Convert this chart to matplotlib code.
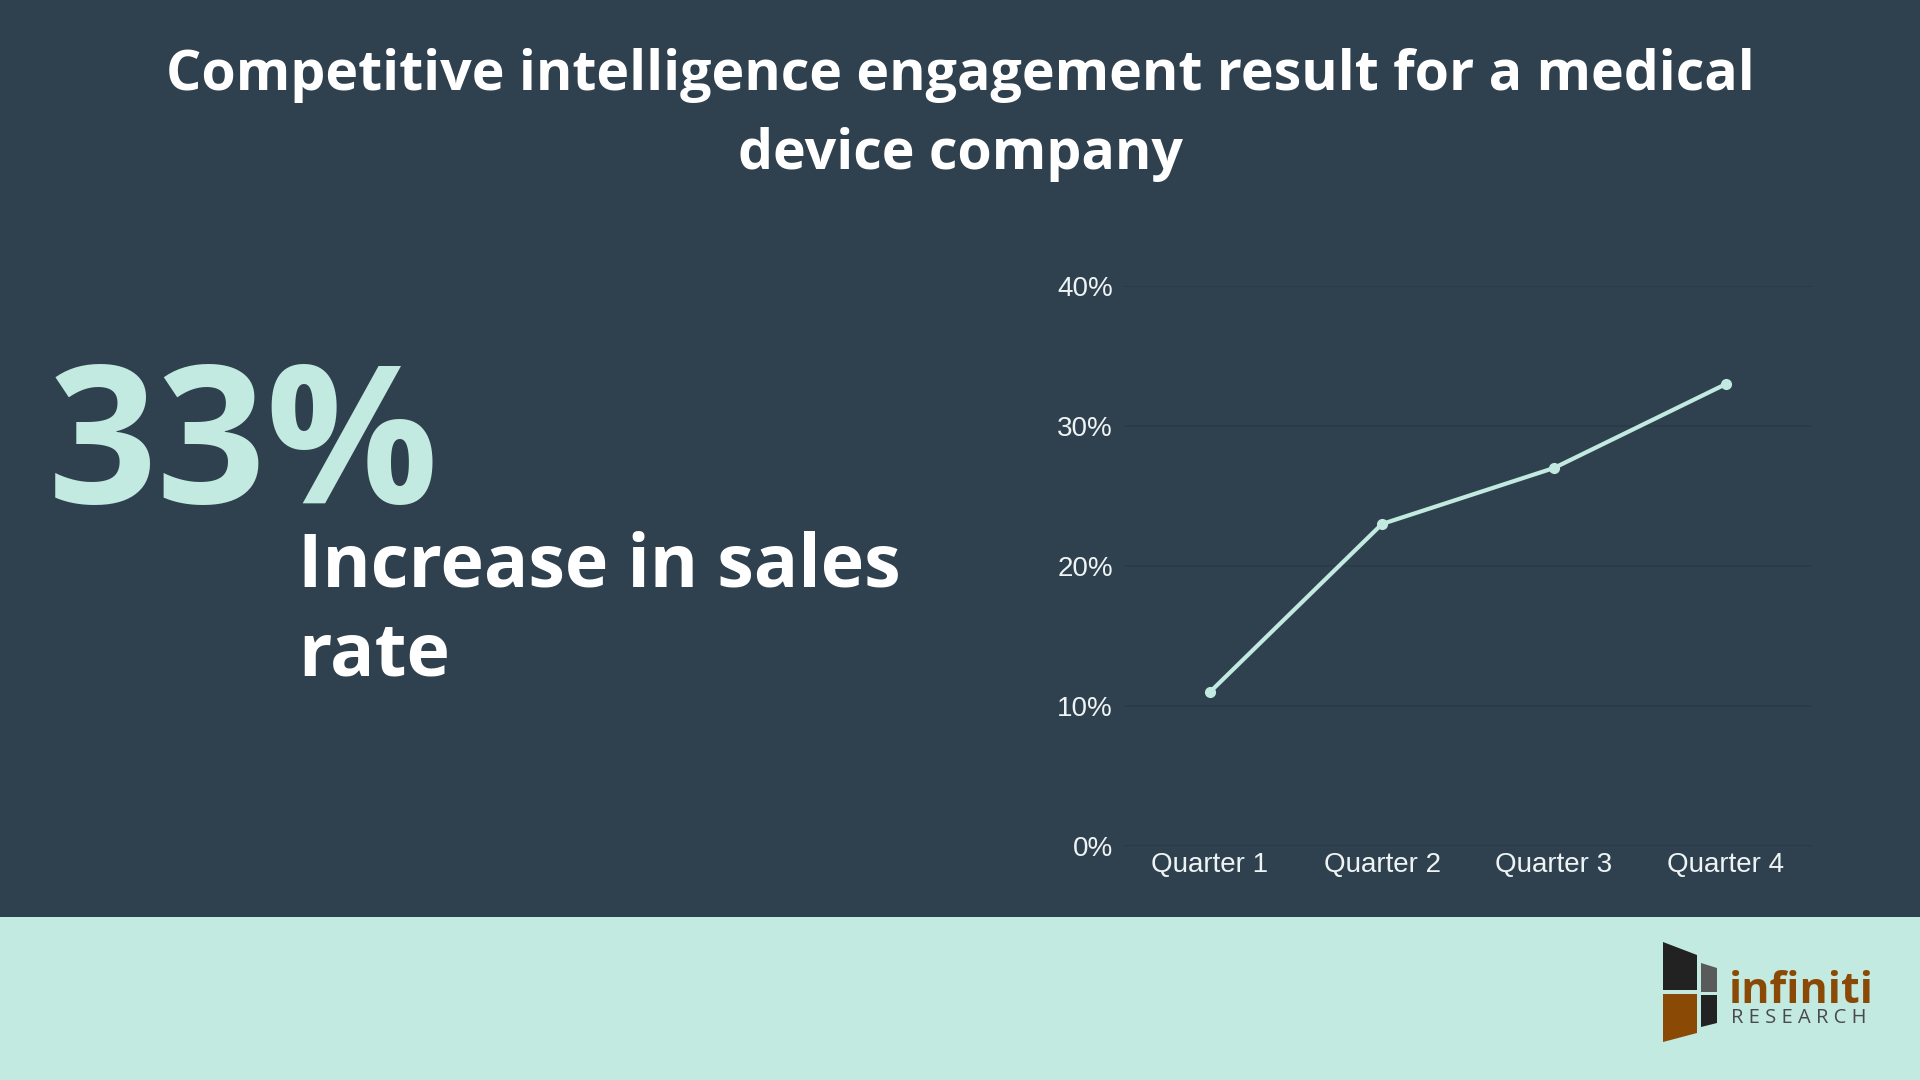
import matplotlib
matplotlib.use("Agg")
import matplotlib.pyplot as plt
from matplotlib.patches import Rectangle, Polygon
from matplotlib.ticker import PercentFormatter

# данные
quarters = ["Quarter 1", "Quarter 2", "Quarter 3", "Quarter 4"]
sales_increase = [11, 23, 27, 33]
y_ticks = [0, 10, 20, 30, 40]

title = "Competitive intelligence engagement result for a medical\ndevice company"
big_number = "33%"
big_caption = "Increase in sales\nrate"

bg = "#2f414e"
mint = "#c2eae1"
grid_col = "#293945"
tick_col = "#eef3f4"

fig = plt.figure(figsize=(19.2, 10.8), dpi=100, facecolor=bg)

# нижняя светлая полоса
fig.patches.append(Rectangle((0, 0), 1, 163 / 1080, transform=fig.transFigure,
                             facecolor=mint, edgecolor="none", zorder=0))

fig.text(0.5, 1 - 115 / 1080, title, ha="center", va="center", color="white",
         fontsize=40, fontweight="bold", family="Open Sans", linespacing=1.58)

fig.text(48 / 1920, 1 - 503 / 1080, big_number, ha="left", va="baseline", color=mint,
         fontsize=138, fontweight="bold", family="Open Sans")
fig.text(298 / 1920, 1 - 676 / 1080, big_caption, ha="left", va="baseline", color="white",
         fontsize=53, fontweight="bold", family="Open Sans", linespacing=1.27)

# график
ax = fig.add_axes([1124 / 1920, 1 - 846 / 1080, 688 / 1920, 560 / 1080])
ax.set_facecolor("none")
x = list(range(len(quarters)))
ax.plot(x, sales_increase, color=mint, lw=3, marker="o", ms=7, zorder=3)
ax.set_xlim(-0.5, len(quarters) - 0.5)
ax.set_ylim(0, 40)
ax.set_yticks(y_ticks)
ax.yaxis.set_major_formatter(PercentFormatter(decimals=0))
ax.set_xticks(x)
ax.set_xticklabels(quarters)
ax.grid(axis="y", color=grid_col, lw=1.2)
ax.set_axisbelow(True)
for s in ax.spines.values():
    s.set_visible(False)
ax.tick_params(length=0, colors=tick_col, labelsize=20, pad=8)
ax.tick_params(axis="x", pad=4)
for lab in ax.get_xticklabels() + ax.get_yticklabels():
    lab.set_family("Liberation Sans")

# логотип
def fpoly(pts, color):
    fig.patches.append(Polygon([(px / 1920, 1 - py / 1080) for px, py in pts], closed=True,
                               transform=fig.transFigure, facecolor=color, edgecolor="none"))

fpoly([(1663, 942), (1697, 955), (1697, 990), (1663, 990)], "#222222")
fpoly([(1701, 963), (1717, 968), (1717, 992), (1701, 992)], "#5a5a5a")
fpoly([(1663, 994), (1697, 994), (1697, 1033), (1663, 1042)], "#8a4a06")
fpoly([(1701, 995), (1717, 995), (1717, 1023), (1701, 1027)], "#222222")

fig.text(1729 / 1920, 1 - 1003 / 1080, "infiniti", ha="left", va="baseline", color="#8a4a06",
         fontsize=31, fontweight="bold", family="Open Sans")
fig.text(1731 / 1920, 1 - 1023 / 1080, "R E S E A R C H", ha="left", va="baseline",
         color="#4a4a4a", fontsize=14.5, family="Open Sans")

fig.savefig("out.png", dpi=100, facecolor=bg)
